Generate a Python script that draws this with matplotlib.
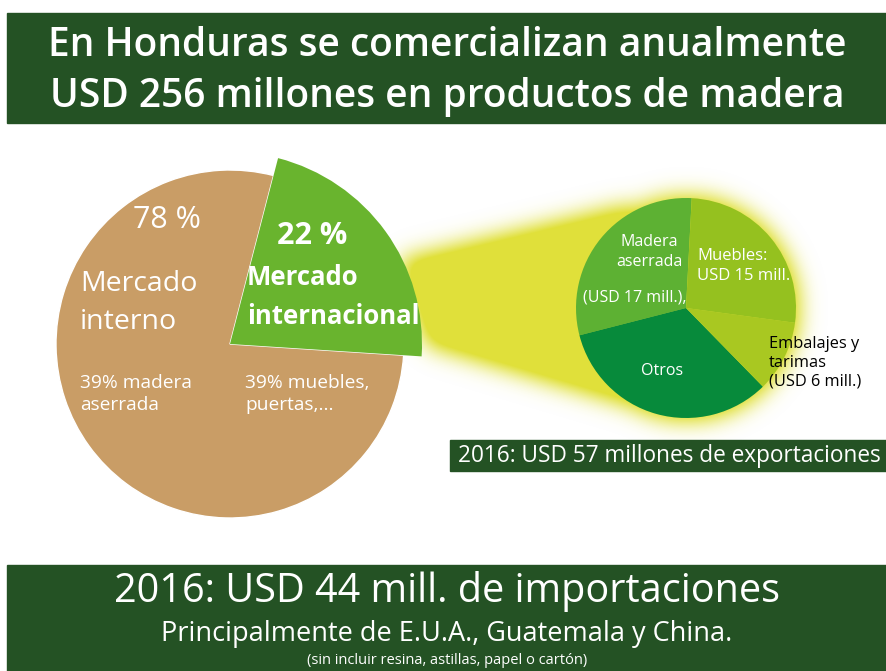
import numpy as np
import matplotlib
matplotlib.use("Agg")
import matplotlib.pyplot as plt
from matplotlib.path import Path
from matplotlib.patches import Rectangle

# data
market_labels = ["Mercado interno", "Mercado internacional"]
market_share = [78, 22]
export_labels = ["Madera aserrada", "Otros", "Embalajes y tarimas", "Muebles"]
export_values = [17, 19, 6, 15]  # USD millones, 2016 (total 57)
export_colors = ["#5db133", "#078a3b", "#a9c821", "#95c11f"]

W, H = 886, 671
plt.rcParams["font.family"] = ["Open Sans", "DejaVu Sans"]

fig = plt.figure(figsize=(W / 100, H / 100), dpi=100)
ax = fig.add_axes([0, 0, 1, 1])


def Y(py):
    # pixel row -> data y (y axis goes up)
    return H - py


# glow / beam from the green wedge to the export pie
yy, xx = np.mgrid[0:H, 0:W]
pts = np.column_stack([xx.ravel() + 0.5, yy.ravel() + 0.5])
beam = Path([(400, 260), (630, 205), (645, 410), (427, 345)])
mask = beam.contains_points(pts).reshape(H, W).astype(float)
cx, cy, r2 = 686, 308, 112
mask = np.maximum(mask, ((xx - cx) ** 2 + (yy - cy) ** 2 < r2 ** 2).astype(float))
# gaussian blur with fft
sig = 11.0
fy = np.fft.fftfreq(H)[:, None]
fx = np.fft.fftfreq(W)[None, :]
kern = np.exp(-2 * (np.pi * sig) ** 2 * (fx ** 2 + fy ** 2))
blur = np.real(np.fft.ifft2(np.fft.fft2(mask) * kern))
alpha = np.clip(blur * 1.5, 0, 1)
glow = np.zeros((H, W, 4))
glow[..., 0] = 0xe0 / 255
glow[..., 1] = 0xe0 / 255
glow[..., 2] = 0x3a / 255
glow[..., 3] = alpha
ax.imshow(glow, extent=(0, W, 0, H), origin="upper", zorder=1, interpolation="bilinear")

# main pie: internal vs international market
wedges, _ = ax.pie(market_share, colors=["#c99d66", "#69b42e"], startangle=75.5,
                   center=(230, Y(344)), radius=174, frame=True,
                   wedgeprops=dict(linewidth=0))
wedges[1].set_radius(192)
wedges[0].set_edgecolor("white")
wedges[0].set_linewidth(1.0)
for w in wedges:
    w.set_zorder(2)

# exports pie
wedges2, _ = ax.pie(export_values, colors=export_colors, startangle=87,
                    center=(cx, Y(cy)), radius=110, frame=True,
                    wedgeprops=dict(linewidth=0))
for w in wedges2:
    w.set_zorder(3)

ax.set_xlim(0, W)
ax.set_ylim(0, H)
ax.set_aspect("auto")
ax.axis("off")

dark = "#245224"
# top banner
ax.add_patch(Rectangle((7, Y(123)), W - 7, 110, color=dark, zorder=4))
ax.text(447, Y(46), "En Honduras se comercializan anualmente", color="white",
        fontsize=28, fontweight="semibold", ha="center", va="center", zorder=5)
ax.text(447, Y(97), "USD 256 millones en productos de madera", color="white",
        fontsize=28, fontweight="semibold", ha="center", va="center", zorder=5)

# labels on main pie
ax.text(167, Y(220), f"{market_share[0]} %", color="white", fontsize=22,
        ha="center", va="center", zorder=5)
ax.text(80, Y(303), "Mercado\ninterno", color="white", fontsize=20.5,
        ha="left", va="center", linespacing=1.45, zorder=5)
ax.text(80, Y(394), "39% madera\naserrada", color="white", fontsize=13.8,
        ha="left", va="center", linespacing=1.3, zorder=5)
ax.text(245, Y(394), "39% muebles,\npuertas,...", color="white", fontsize=13.8,
        ha="left", va="center", linespacing=1.3, zorder=5)
ax.text(312, Y(236), f"{market_share[1]} %", color="white", fontsize=22,
        fontweight="bold", ha="center", va="center", zorder=5)
ax.text(247, Y(297), "Mercado\ninternacional", color="white", fontsize=18.5,
        fontweight="bold", ha="left", va="center", linespacing=1.55, zorder=5)

# labels on export pie
ax.text(649, Y(252), "Madera\naserrada", color="white", fontsize=11.5,
        ha="center", va="center", linespacing=1.35, zorder=5)
ax.text(635, Y(298), f"(USD {export_values[0]} mill.),", color="white", fontsize=11.5,
        ha="center", va="center", zorder=5)
ax.text(697, Y(266), f"Muebles:\nUSD {export_values[3]} mill.", color="white",
        fontsize=12, ha="left", va="center", linespacing=1.35, zorder=5)
ax.text(769, Y(363), f"Embalajes y\ntarimas\n(USD {export_values[2]} mill.)",
        color="black", fontsize=11.8, ha="left", va="center", linespacing=1.25, zorder=5)
ax.text(662, Y(371), export_labels[1], color="white", fontsize=11.5,
        ha="center", va="center", zorder=5)

# exports banner
ax.add_patch(Rectangle((450, Y(471)), W - 450, 31, color=dark, zorder=4))
ax.text(458, Y(456), f"2016: USD {sum(export_values)} millones de exportaciones",
        color="white", fontsize=16.3, ha="left", va="center", zorder=5)

# bottom banner
ax.add_patch(Rectangle((7, 0), W - 7, Y(565), color=dark, zorder=4))
ax.text(447, Y(592), "2016: USD 44 mill. de importaciones", color="white",
        fontsize=28.5, ha="center", va="center", zorder=5)
ax.text(447, Y(634), "Principalmente de E.U.A., Guatemala y China.", color="white",
        fontsize=19.5, ha="center", va="center", zorder=5)
ax.text(447, Y(660), "(sin incluir resina, astillas, papel o cartón)", color="white",
        fontsize=10.5, ha="center", va="center", zorder=5)

fig.savefig("out.png", dpi=100)
